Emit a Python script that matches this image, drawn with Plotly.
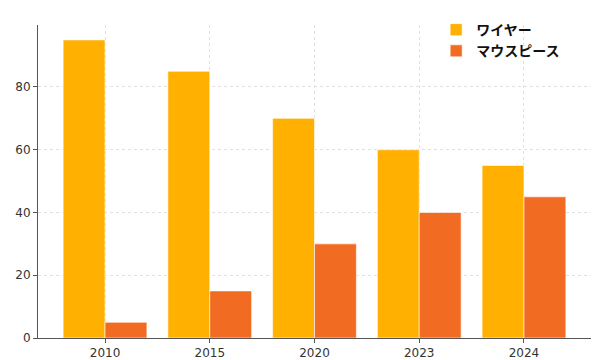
import plotly.graph_objects as go

years = ["2010", "2015", "2020", "2023", "2024"]
wire = [95, 85, 70, 60, 55]
mouthpiece = [5, 15, 30, 40, 45]
series_names = ["ワイヤー", "マウスピース"]
colors = ["#FFB000", "#F26B22"]

fig = go.Figure()
for name, vals, c in zip(series_names, [wire, mouthpiece], colors):
    fig.add_trace(go.Bar(x=years, y=vals, name=name, marker=dict(color=c, line=dict(color="white", width=0.6))))

fig.update_layout(
    width=600, height=360,
    margin=dict(l=38, r=9, t=25, b=22),
    paper_bgcolor="white", plot_bgcolor="white",
    barmode="group", bargap=0.2, bargroupgap=0,
    font=dict(family="DejaVu Sans", size=12, color="#333333"),
    legend=dict(x=0.72, y=1.035, xanchor="left", yanchor="top", tracegroupgap=0,
                font=dict(family="Noto Sans CJK JP", size=14, color="#111111", weight="bold"),
                bgcolor="rgba(255,255,255,0)", itemwidth=30),
    showlegend=True,
)
fig.update_xaxes(type="category", range=[-0.64, 4.64], showline=True, linecolor="#555555", linewidth=1,
                 ticks="outside", ticklen=4, tickcolor="#555555", automargin=False,
                 showgrid=True, gridcolor="#e0e0e0", griddash="dot", gridwidth=0.8)
fig.update_yaxes(range=[0, 99.75], tickvals=[0, 20, 40, 60, 80], showline=True, linecolor="#555555", linewidth=1,
                 ticks="outside", ticklen=4, tickcolor="#555555", automargin=False,
                 showgrid=True, gridcolor="#e0e0e0", griddash="dot", gridwidth=0.8, zeroline=False)

fig.write_html("out.html")
